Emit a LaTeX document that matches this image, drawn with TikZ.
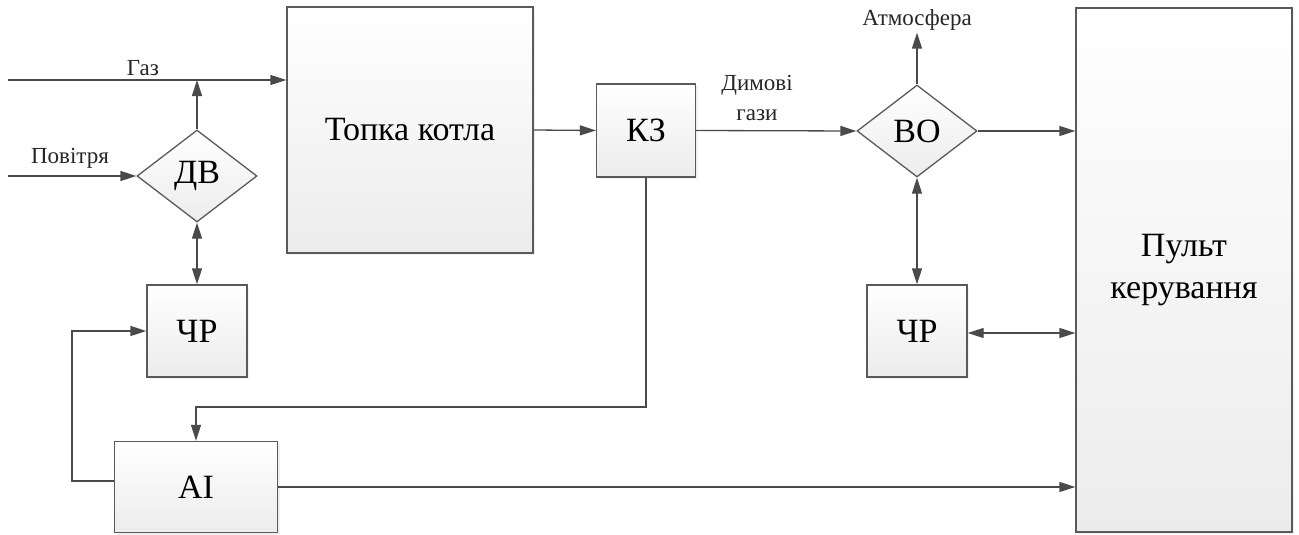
\documentclass[tikz,border=0pt]{standalone}
\usepackage{fontspec}
\setmainfont{Liberation Serif}
\usetikzlibrary{arrows.meta,shapes.geometric,shadows}
\definecolor{linegray}{HTML}{4A4A4A}
\definecolor{boxgray}{HTML}{5A5A5A}
\definecolor{fillgray}{HTML}{ECECEC}
\begin{document}
\begin{tikzpicture}[x=1pt,y=-1pt]
  \tikzstyle{block}=[rectangle, draw=boxgray, line width=1.3pt, top color=white, bottom color=fillgray,
                     drop shadow={opacity=0.12, shadow xshift=2pt, shadow yshift=-2pt},
                     inner sep=0pt, font=\fontsize{34}{42}\selectfont, align=center]
  \tikzstyle{valve}=[diamond, draw=boxgray, line width=1.3pt, top color=white, bottom color=fillgray,
                     minimum width=120pt, minimum height=92pt, inner sep=0pt,
                     font=\fontsize{34}{40}\selectfont]
  \tikzstyle{flowtext}=[font=\fontsize{23}{30}\selectfont, text=black!85, align=center]
  \tikzstyle{arr}=[draw=linegray, line width=1.3pt, -{Triangle[length=16pt,width=10pt]}]
  \tikzstyle{dbl}=[draw=linegray, line width=1.3pt, {Triangle[length=16pt,width=10pt]}-{Triangle[length=16pt,width=10pt]}]

  \useasboundingbox (0,0) rectangle (1299,535);

  \node[block, minimum width=246pt, minimum height=246pt] (topka) at (410,130)  {Топка котла};
  \node[block, minimum width=99pt,  minimum height=93pt]  (kz)    at (646,130.5) {КЗ};
  \node[block, minimum width=216pt, minimum height=524pt] (pult)  at (1184,270) {Пульт\\керування};
  \node[block, minimum width=100pt, minimum height=92pt]  (chr1)  at (197,331)  {ЧР};
  \node[block, minimum width=100pt, minimum height=92pt]  (chr2)  at (917,331)  {ЧР};
  \node[block, minimum width=163pt, minimum height=91pt]  (ai)    at (196,487)  {AI};
  \node[valve] (dv) at (197,176) {ДВ};
  \node[valve] (vo) at (917,131) {ВО};

  \node[flowtext] (gas)   at (143,68)  {Газ};
  \node[flowtext] (air)   at (70,158)  {Повітря};
  \node[flowtext] (smoke) at (757,98)  {Димові\\гази};
  \node[flowtext, inner sep=2pt] (atm) at (917,20) {Атмосфера};

  \coordinate (gasin) at (8,80);
  \coordinate (airin) at (8,176);
  \coordinate (fb)    at (420,407);
  \coordinate (loop)  at (72,331);

  \path[arr] (gasin) -- (gasin -| topka.west);
  \path[arr] (airin) -- (dv.west);
  \path[arr] (dv.north) -- (dv.north |- gasin);
  \path[dbl] (dv.south) -- (chr1.north);
  \path[arr] (topka.east) -- (kz.west);
  \path[arr] (kz.east) -- (vo.west);
  \path[arr] (vo.north) -- (atm.south);
  \path[arr] (vo.east) -- (vo.east -| pult.west);
  \path[dbl] (vo.south) -- (chr2.north);
  \path[dbl] ([yshift=-2pt]chr2.east) -- ([yshift=-2pt]chr2.east -| pult.west);
  \path[arr] (kz.south) |- (fb) -| (ai.north);
  \path[arr] ([yshift=6pt]ai.west) -| (loop) -- (chr1.west);
  \path[arr] (ai.east) -- (ai.east -| pult.west);
\end{tikzpicture}
\end{document}
